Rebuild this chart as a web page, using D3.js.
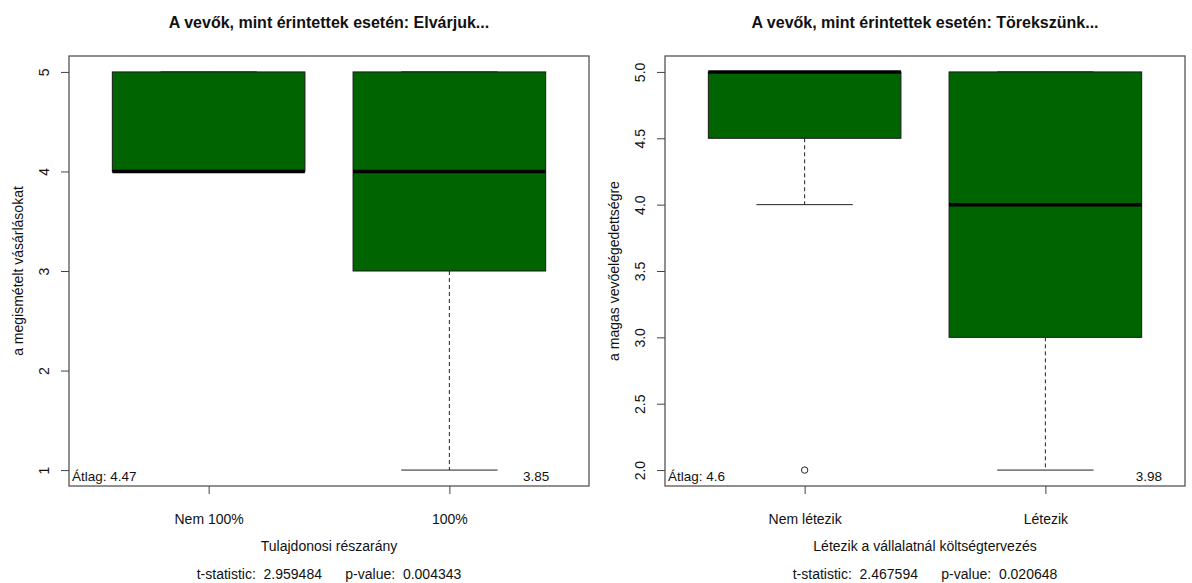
<!DOCTYPE html>
<html>
<head>
<meta charset="utf-8">
<script src="https://cdn.jsdelivr.net/npm/d3@7"></script>
<style>
  html, body { margin: 0; padding: 0; background: #fff; }
  svg text { font-family: "Liberation Sans", Arial, sans-serif; fill: #111; }
</style>
</head>
<body>
<svg id="chart" width="1192" height="583"></svg>
<script>
const titles = [
  "A vevők, mint érintettek esetén: Elvárjuk...",
  "A vevők, mint érintettek esetén: Törekszünk..."
];
const yTitles = ["a megismételt vásárlásokat", "a magas vevőelégedettségre"];
const xTitles = ["Tulajdonosi részarány", "Létezik a vállalatnál költségtervezés"];

// Panel 1: repeat purchases by ownership share
const categories1 = ["Nem 100%", "100%"];
// [lower whisker, Q1, median, Q3, upper whisker]
const stats1 = [[4, 4, 4, 5, 5], [1, 3, 4, 5, 5]];
const outliers1 = [[], []];
const means1 = ["4.47", "3.85"];
const yTicks1 = [1, 2, 3, 4, 5];
const tStat1 = "2.959484";
const pValue1 = "0.004343";

// Panel 2: customer satisfaction by cost planning
const categories2 = ["Nem létezik", "Létezik"];
const stats2 = [[4, 4.5, 5, 5, 5], [2, 3, 4, 5, 5]];
const outliers2 = [[2], []];
const means2 = ["4.6", "3.98"];
const yTicks2 = [2.0, 2.5, 3.0, 3.5, 4.0, 4.5, 5.0];
const tStat2 = "2.467594";
const pValue2 = "0.020648";

const svg = d3.select("#chart");
const panelW = 596;
const plot = { left: 69, right: 589, top: 56, bottom: 486 };
const fill = "#006400";
const axisFont = "14px";

function drawPanel(i, cats, stats, outs, means, yTicks, tickFmt, tStat, pVal, meanPos) {
  const g = svg.append("g").attr("transform", `translate(${i * panelW},0)`);

  // value axis spans the data range plus 4% on each side
  const allVals = stats.flat().concat(outs.flat());
  const lo = d3.min(allVals), hi = d3.max(allVals);
  const pad = (hi - lo) * 0.04;
  const y = d3.scaleLinear().domain([lo - pad, hi + pad]).range([plot.bottom, plot.top]);
  const pos = cats.map((c, k) => k + 1);
  const x = d3.scaleLinear().domain([0.42, 2.58]).range([plot.left, plot.right]);
  const halfW = x(1.4) - x(1);          // box half width: 0.4 units
  const capHalf = halfW / 2;

  // title
  g.append("text")
    .attr("x", (plot.left + plot.right) / 2)
    .attr("y", 22)
    .attr("text-anchor", "middle")
    .attr("dominant-baseline", "central")
    .style("font-size", "16px")
    .style("font-weight", "bold")
    .text(titles[i]);

  // boxes
  stats.forEach((s, k) => {
    const cx = x(pos[k]);
    const [wLo, q1, med, q3, wHi] = s;
    // whiskers (dashed) and staples
    g.append("line").attr("x1", cx).attr("x2", cx).attr("y1", y(q1)).attr("y2", y(wLo))
      .attr("stroke", "#222").attr("stroke-dasharray", "4,3");
    g.append("line").attr("x1", cx).attr("x2", cx).attr("y1", y(q3)).attr("y2", y(wHi))
      .attr("stroke", "#222").attr("stroke-dasharray", "4,3");
    g.append("line").attr("x1", cx - capHalf).attr("x2", cx + capHalf)
      .attr("y1", y(wLo)).attr("y2", y(wLo)).attr("stroke", "#222");
    g.append("line").attr("x1", cx - capHalf).attr("x2", cx + capHalf)
      .attr("y1", y(wHi)).attr("y2", y(wHi)).attr("stroke", "#222");
    // box
    g.append("rect")
      .attr("x", cx - halfW).attr("width", 2 * halfW)
      .attr("y", y(q3)).attr("height", y(q1) - y(q3))
      .attr("fill", fill).attr("stroke", "#1a1a1a").attr("stroke-width", 1);
    // median
    g.append("line").attr("x1", cx - halfW).attr("x2", cx + halfW)
      .attr("y1", y(med)).attr("y2", y(med))
      .attr("stroke", "#000").attr("stroke-width", 3.5);
    // outliers
    outs[k].forEach(v => {
      g.append("circle").attr("cx", cx).attr("cy", y(v)).attr("r", 3.2)
        .attr("fill", "none").attr("stroke", "#222");
    });
  });

  // frame
  g.append("rect")
    .attr("x", plot.left).attr("y", plot.top)
    .attr("width", plot.right - plot.left).attr("height", plot.bottom - plot.top)
    .attr("fill", "none").attr("stroke", "#555").attr("stroke-width", 1.3);

  // y axis
  const yAxis = g.append("g").attr("transform", `translate(${plot.left},0)`)
    .call(d3.axisLeft(y).tickValues(yTicks).tickFormat(tickFmt).tickSize(8).tickPadding(0));
  yAxis.select(".domain").remove();
  yAxis.selectAll(".tick line").attr("stroke", "#444");
  yAxis.selectAll(".tick text")
    .attr("x", 0).attr("dy", 0)
    .attr("transform", "translate(-25,0) rotate(-90)")
    .attr("text-anchor", "middle")
    .attr("dominant-baseline", "central")
    .style("font-size", axisFont);

  // x axis
  const xAxis = g.append("g").attr("transform", `translate(0,${plot.bottom})`)
    .call(d3.axisBottom(x).tickValues(pos).tickFormat((d, k) => cats[k]).tickSize(8).tickPadding(0));
  xAxis.select(".domain").remove();
  xAxis.selectAll(".tick line").attr("stroke", "#444");
  xAxis.selectAll(".tick text").attr("y", 33).attr("dy", 0)
    .attr("dominant-baseline", "central").style("font-size", axisFont);

  // axis titles
  g.append("text")
    .attr("transform", `translate(18,${(plot.top + plot.bottom) / 2}) rotate(-90)`)
    .attr("text-anchor", "middle").attr("dominant-baseline", "central")
    .style("font-size", axisFont)
    .text(yTitles[i]);
  g.append("text")
    .attr("x", (plot.left + plot.right) / 2).attr("y", 546)
    .attr("text-anchor", "middle").attr("dominant-baseline", "central")
    .style("font-size", axisFont)
    .text(xTitles[i]);
  g.append("text")
    .attr("x", (plot.left + plot.right) / 2).attr("y", 574)
    .attr("text-anchor", "middle").attr("dominant-baseline", "central")
    .style("font-size", axisFont)
    .attr("xml:space", "preserve")
    .text(`t-statistic:  ${tStat}      p-value:  ${pVal}`);

  // group means
  g.append("text")
    .attr("x", plot.left + 3).attr("y", plot.bottom - 10)
    .attr("dominant-baseline", "central")
    .style("font-size", "13.5px")
    .text("Átlag: " + means[0]);
  g.append("text")
    .attr("x", x(meanPos)).attr("y", plot.bottom - 10)
    .attr("text-anchor", "middle").attr("dominant-baseline", "central")
    .style("font-size", "13.5px")
    .text(means[1]);
}

drawPanel(0, categories1, stats1, outliers1, means1, yTicks1, d3.format("d"), tStat1, pValue1, 2.36);
drawPanel(1, categories2, stats2, outliers2, means2, yTicks2, d3.format(".1f"), tStat2, pValue2, 2.43);
</script>
</body>
</html>
